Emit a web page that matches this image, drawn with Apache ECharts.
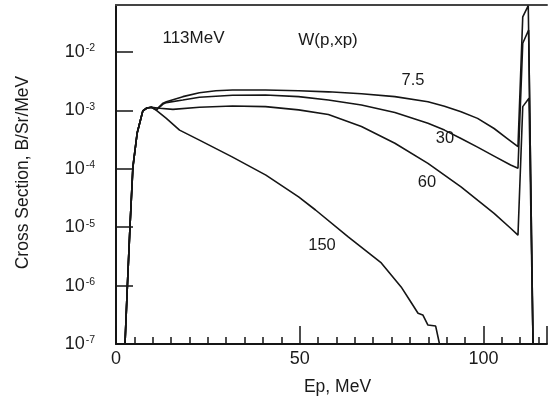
<!DOCTYPE html>
<html><head><meta charset="utf-8">
<script src="https://cdn.jsdelivr.net/npm/echarts@6/dist/echarts.min.js"></script>
<style>html,body{margin:0;padding:0;background:#fff}#c{width:550px;height:401px}</style>
</head><body><div id="c"></div>
<script>
// shared rising edge (Ep MeV, cross section B/Sr/MeV)
const rise = [[2.45,1e-7],[3.1,1e-6],[3.8,1e-5],[4.6,1.07e-4],[5.76,4.1e-4],[6.68,6.9e-4],[7.3,9.8e-4],[8.4,1.1e-3],[9.65,1.13e-3]];
const curve7_5 = [[11.0,1.03e-3],[12.8,1.33e-3],[13.7,1.41e-3],[18.2,1.72e-3],[22.7,2.01e-3],[27.2,2.17e-3],[31.7,2.23e-3],[40.7,2.23e-3],[49.7,2.17e-3],[57.8,2.08e-3],[66.8,1.93e-3],[75.9,1.72e-3],[84.9,1.41e-3],[89.4,1.18e-3],[93.9,9.5e-4],[98.4,7.3e-4],[102.9,4.9e-4],[106.5,3.3e-4],[109.4,2.39e-4],[110.7,0.040],[112.2,0.062],[113.5,1e-7]];
const curve30 = [[11.0,1.02e-3],[12.8,1.28e-3],[13.7,1.36e-3],[18.2,1.51e-3],[22.7,1.68e-3],[31.7,1.82e-3],[40.7,1.84e-3],[49.7,1.72e-3],[57.8,1.51e-3],[66.8,1.24e-3],[75.9,9.2e-4],[84.9,6.0e-4],[89.4,4.6e-4],[93.9,3.3e-4],[98.4,2.35e-4],[102.9,1.65e-4],[107.4,1.16e-4],[109.4,1.02e-4],[110.7,0.0141],[112.3,0.0238],[113.5,1e-7]];
const curve60 = [[11.9,1.09e-3],[15.5,1.04e-3],[22.7,1.13e-3],[31.7,1.19e-3],[40.7,1.16e-3],[49.7,1.02e-3],[57.8,8.5e-4],[66.8,5.3e-4],[75.9,2.74e-4],[84.9,1.24e-4],[93.9,4.9e-5],[98.4,2.9e-5],[102.9,1.73e-5],[107.4,9.6e-6],[109.4,7.3e-6],[110.7,1.16e-3],[112.4,1.61e-3],[113.5,1e-7]];
const curve150 = [[11.0,1.0e-3],[13.7,7.3e-4],[17.3,4.6e-4],[22.7,3.1e-4],[31.6,1.6e-4],[40.8,7.8e-5],[49.7,3.3e-5],[54.3,1.97e-5],[63.2,6.8e-6],[72.2,2.44e-6],[77.6,9.5e-7],[79.9,5.66e-7],[82.2,3.36e-7],[83.5,3.14e-7],[84.9,2.11e-7],[87.0,2.03e-7],[88.0,1.03e-7],[88.3,8e-8]];
const curveNames = ['7.5','30','60','150'];
const xTickLabels = [0,50,100];
const yExponents = [-7,-6,-5,-4,-3,-2];
const xMin = 0, xMax = 117.3, yMin = 1e-7, yMax = 0.0638;

const FONT = 'Liberation Sans, Arial, Helvetica, sans-serif';
const ink = '#151515';
const chart = echarts.init(document.getElementById('c'), null, {renderer:'canvas'});
function mkLine(name, pts){
  return {type:'line', name, xAxisIndex:0, yAxisIndex:0, data: rise.concat(pts), showSymbol:false, symbol:'none',
    clip:true, lineStyle:{color:ink, width:1.6}, itemStyle:{color:ink}, animation:false, z:3};
}
const data = [curve7_5, curve30, curve60, curve150];
const labelPos = [[413,80],[445,138],[427,182],[322,245]];
chart.setOption({
  animation:false,
  backgroundColor:'#fff',
  grid:{left:116, right:0, top:5, bottom:57, containLabel:false},
  xAxis:[
    {type:'value', position:'bottom', min:xMin, max:xMax, interval:5,
     axisLine:{show:true, lineStyle:{color:ink, width:2}},
     axisTick:{show:true, inside:true, length:7, lineStyle:{color:ink, width:1.5}},
     axisLabel:{show:true, margin:6, fontFamily:FONT, fontSize:18, color:'#1a1a1a',
       formatter:v=> xTickLabels.includes(Math.round(v*1000)/1000) ? String(v) : ''},
     splitLine:{show:false},
     name:'Ep, MeV', nameLocation:'middle', nameGap:34,
     nameTextStyle:{fontFamily:FONT, fontSize:17.5, color:'#1a1a1a', padding:[0,0,0,12]}},
    {type:'value', position:'bottom', min:xMin, max:xMax, interval:50,
     axisLine:{show:false}, axisTick:{show:true, inside:true, length:18, lineStyle:{color:ink, width:1.5}},
     axisLabel:{show:false}, splitLine:{show:false}},
    {type:'value', position:'top', min:xMin, max:xMax,
     axisLine:{show:true, lineStyle:{color:'#444', width:2}}, axisTick:{show:false}, axisLabel:{show:false}, splitLine:{show:false}}
  ],
  yAxis:[{type:'log', logBase:10, min:yMin, max:yMax,
    axisLine:{show:true, lineStyle:{color:ink, width:2}},
    axisTick:{show:true, inside:true, length:17, lineStyle:{color:ink, width:1.5}},
    splitLine:{show:false}, minorTick:{show:false},
    axisLabel:{show:true, margin:21, showMaxLabel:false, fontFamily:FONT, fontSize:18, color:'#1a1a1a',
      formatter:function(v){
        const e = Math.round(Math.log10(v));
        if (Math.abs(Math.log10(v)-e) > 1e-6 || !yExponents.includes(e)) return '';
        return '10{sup|' + e + '}';
      },
      rich:{sup:{fontFamily:FONT, fontSize:10.5, color:'#1a1a1a', verticalAlign:'top', padding:[0,0,0,1]}}},
    name:'Cross Section, B/Sr/MeV', nameLocation:'middle', nameGap:84, nameRotate:90,
    nameTextStyle:{fontFamily:FONT, fontSize:17.5, color:'#1a1a1a', padding:[0,0,0,4]}
  }],
  series: data.map((d,i)=>mkLine(curveNames[i], d)),
  graphic:[
    {type:'text', x:193.5, y:38.5, style:{text:'113MeV', font:'17px '+FONT, fill:'#1a1a1a', textAlign:'center', textVerticalAlign:'middle', verticalAlign:'middle'}},
    {type:'text', x:328, y:40, style:{text:'W(p,xp)', font:'17px '+FONT, fill:'#1a1a1a', textAlign:'center', textVerticalAlign:'middle', verticalAlign:'middle'}}
  ].concat(curveNames.map((n,i)=>({type:'text', x:labelPos[i][0], y:labelPos[i][1],
     style:{text:n, font:'16.5px '+FONT, fill:'#1a1a1a', textAlign:'center', textVerticalAlign:'middle', verticalAlign:'middle'}})))
});
</script></body></html>
